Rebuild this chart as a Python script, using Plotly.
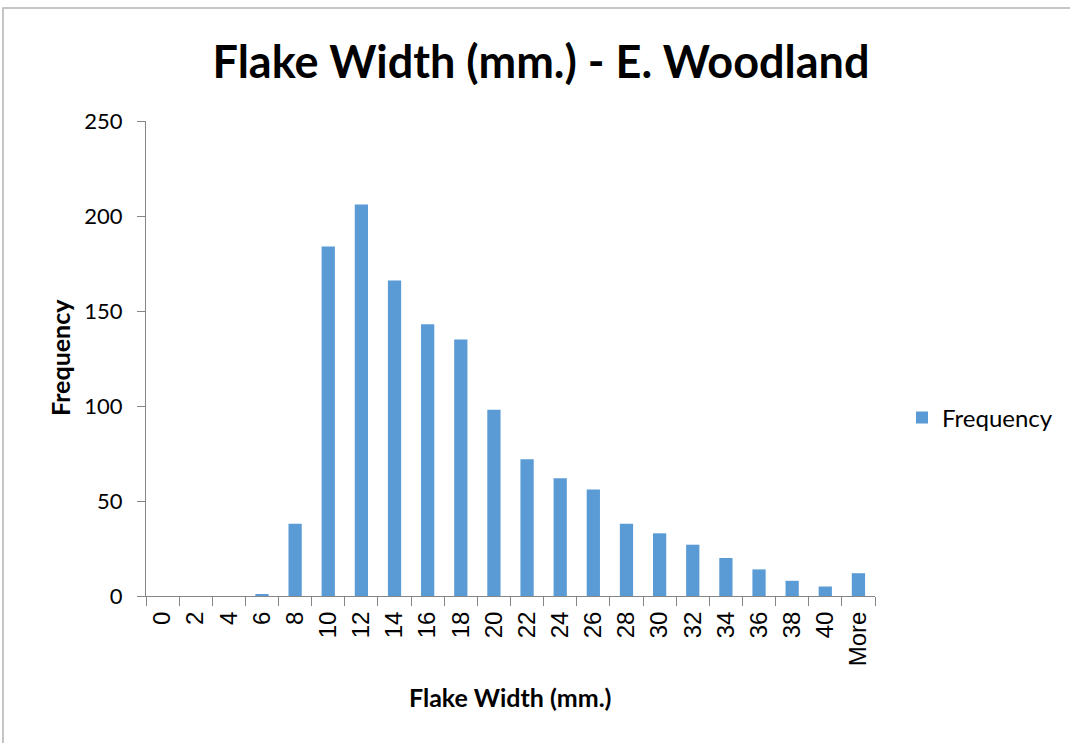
import plotly.graph_objects as go

# Histogram bins (upper bin edges, mm) and counts
bins = ["0", "2", "4", "6", "8", "10", "12", "14", "16", "18", "20",
        "22", "24", "26", "28", "30", "32", "34", "36", "38", "40", "More"]
frequency = [0, 0, 0, 1, 38, 184, 206, 166, 143, 135, 98,
             72, 62, 56, 38, 33, 27, 20, 14, 8, 5, 12]

W, H = 1070, 743
L, R, T, B = 146, 195, 121, 147
pw, ph = W - L - R, H - T - B

axis_color = "#868686"
calibri_like = "Lato, 'Open Sans', sans-serif"


def px_x(x):
    return (x - L) / pw


def px_y(y):
    return (H - B - y) / ph


fig = go.Figure()
fig.add_trace(go.Bar(
    x=bins, y=frequency, name="Frequency",
    marker=dict(color="#5b9bd5", line=dict(width=0)),
))

fig.update_layout(
    width=W, height=H,
    margin=dict(l=L, r=R, t=T, b=B),
    paper_bgcolor="white", plot_bgcolor="white",
    bargap=0.6,
    showlegend=True,
    title=dict(
        text="<b>Flake Width (mm.) - E. Woodland</b>",
        x=541 / W, xanchor="center",
        y=1 - 62 / H, yanchor="middle",
        font=dict(family=calibri_like, size=45, color="black"),
    ),
    legend=dict(
        x=px_x(902), xanchor="left",
        y=px_y(418), yanchor="middle",
        font=dict(family=calibri_like, size=24, color="black"),
        itemwidth=30,
        bgcolor="rgba(0,0,0,0)",
    ),
    xaxis=dict(
        type="category",
        showline=True, linecolor=axis_color, linewidth=1,
        ticks="outside", ticklen=9, tickcolor=axis_color,
        tickson="boundaries",
        tickangle=-90,
        ticklabelstandoff=5,
        tickfont=dict(family="'Liberation Sans', Arial, sans-serif", size=24, color="black"),
        showgrid=False, zeroline=False,
    ),
    yaxis=dict(
        range=[0, 250], tickvals=[0, 50, 100, 150, 200, 250],
        showline=True, linecolor=axis_color, linewidth=1,
        ticks="outside", ticklen=8, tickcolor=axis_color,
        ticklabelstandoff=10,
        tickfont=dict(family=calibri_like, size=22, color="black"),
        showgrid=False, zeroline=False,
    ),
)

# Axis titles
fig.add_annotation(
    text="<b>Flake Width (mm.)</b>", xref="paper", yref="paper",
    x=px_x(510), y=px_y(697), xanchor="center", yanchor="middle",
    showarrow=False, font=dict(family=calibri_like, size=25, color="black"),
)
fig.add_annotation(
    text="<b>Frequency</b>", xref="paper", yref="paper",
    x=px_x(60), y=px_y(358), xanchor="center", yanchor="middle",
    textangle=-90,
    showarrow=False, font=dict(family=calibri_like, size=25, color="black"),
)

# Outer chart border
fig.add_shape(
    type="rect", xref="paper", yref="paper",
    x0=px_x(3), x1=px_x(W + 20),
    y0=px_y(H + 20), y1=px_y(8),
    line=dict(color="#b3b3b3", width=1.5), fillcolor="rgba(0,0,0,0)",
    layer="below",
)

fig.write_html("out.html")
